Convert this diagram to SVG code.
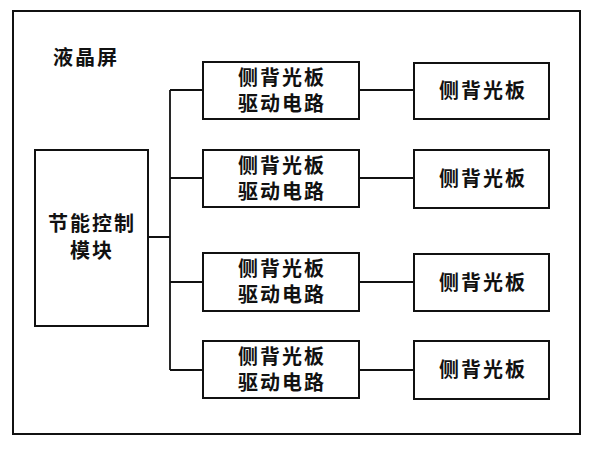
<svg xmlns="http://www.w3.org/2000/svg" width="589" height="450" viewBox="0 0 589 450">
<style>
.b{fill:#fff;stroke:#111;stroke-width:2}
.c{fill:none;stroke:#111;stroke-width:1.8}
.t{font-family:"Liberation Serif","Noto Sans CJK SC",serif;font-size:20px;font-weight:bold;fill:#111;text-anchor:middle;letter-spacing:2px}
</style>
<rect x="0" y="0" width="589" height="450" fill="#fff"/>
<g id="screen">
<rect class="b" x="13" y="11" width="567" height="423"/>
<text class="t" x="86" y="65">液晶屏</text>
</g>
<g id="connectors">
<path class="c" d="M148 237H170M170 90V370M170 90H203M170 178H203M170 282H203M170 370H203"/>
<path class="c" d="M359 90H414M359 178H414M359 282H414M359 370H414"/>
</g>
<g id="control">
<rect class="b" x="35" y="150" width="113" height="176"/>
<text class="t" x="92" y="231">节能控制</text>
<text class="t" x="92" y="258">模块</text>
</g>
<g id="driver1">
<rect class="b" x="203" y="62" width="156" height="57"/>
<text class="t" x="282" y="85">侧背光板</text>
<text class="t" x="282" y="111">驱动电路</text>
</g>
<g id="driver2">
<rect class="b" x="203" y="150" width="156" height="57"/>
<text class="t" x="282" y="173">侧背光板</text>
<text class="t" x="282" y="199">驱动电路</text>
</g>
<g id="driver3">
<rect class="b" x="203" y="253" width="156" height="58"/>
<text class="t" x="282" y="276">侧背光板</text>
<text class="t" x="282" y="302">驱动电路</text>
</g>
<g id="driver4">
<rect class="b" x="203" y="341" width="156" height="57"/>
<text class="t" x="282" y="364">侧背光板</text>
<text class="t" x="282" y="390">驱动电路</text>
</g>
<g id="panel1">
<rect class="b" x="414" y="63" width="135" height="56"/>
<text class="t" x="483" y="98">侧背光板</text>
</g>
<g id="panel2">
<rect class="b" x="414" y="150" width="135" height="58"/>
<text class="t" x="483" y="186">侧背光板</text>
</g>
<g id="panel3">
<rect class="b" x="414" y="254" width="135" height="57"/>
<text class="t" x="483" y="290">侧背光板</text>
</g>
<g id="panel4">
<rect class="b" x="414" y="341" width="135" height="58"/>
<text class="t" x="483" y="377">侧背光板</text>
</g>
</svg>
